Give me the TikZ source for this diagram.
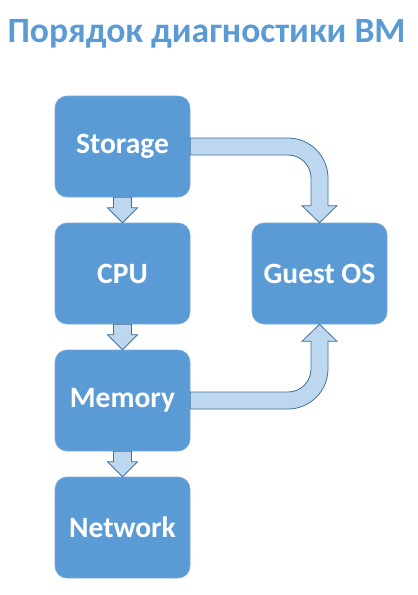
\documentclass[tikz,border=0pt]{standalone}
\usepackage{fontspec}
\setmainfont{Carlito}
\usetikzlibrary{calc}
\definecolor{boxblue}{HTML}{5B9BD5}
\definecolor{arrowfill}{HTML}{BDD7EE}
\definecolor{arrowline}{HTML}{41719C}
\tikzset{
  box/.style={rectangle, rounded corners=12pt, fill=boxblue, draw=boxblue!85!white, line width=0.6pt,
    minimum width=135pt, minimum height=101pt, inner sep=0pt,
    text=white, font=\fontsize{29.5}{33}\selectfont\bfseries},
  blockarrow/.style={fill=arrowfill, draw=arrowline, line width=0.8pt, line join=miter},
  titlestyle/.style={text=boxblue, font=\fontsize{35.6}{40}\selectfont\bfseries, inner sep=0pt}
}
\begin{document}
\begin{tikzpicture}[x=1pt, y=-1pt]
\useasboundingbox (0,0) rectangle (418,595);
\node[titlestyle, anchor=base] (title) at (206.5,42) {Порядок диагностики ВМ};
\node[box] (storage) at (122.5,146.5) {Storage};
\node[box] (cpu) at (122.5,273.5) {CPU};
\node[box] (memory) at (122.5,400.5) {Memory};
\node[box] (network) at (122.5,527.5) {Network};
\node[box] (guest) at (319.5,273.5) {Guest OS};
% small down arrows
\foreach \a/\b in {storage/cpu, cpu/memory, memory/network}{
  \path[blockarrow] ($(\a.south)+(-9,0)$) -- ($(\b.north)+(-9,-15)$) -- ($(\b.north)+(-15,-15)$)
    -- (\b.north) -- ($(\b.north)+(15,-15)$) -- ($(\b.north)+(9,-15)$) -- ($(\a.south)+(9,0)$) -- cycle;
}
% Storage -> Guest OS
\coordinate (s1) at ($(storage.east)+(0,-8.5)$);
\coordinate (s2) at ($(storage.east)+(0,8.5)$);
\coordinate (g1) at ($(guest.north)+(8.5,-17)$);
\coordinate (g2) at ($(guest.north)+(-8.5,-17)$);
\coordinate (C) at (g1 |- s1);
\coordinate (D) at (g2 |- s2);
\path[blockarrow] (s1) -- ($(C)+(-40,0)$) .. controls ($(C)+(-18,0)$) and ($(C)+(0,18)$) .. ($(C)+(0,40)$)
  -- (g1) -- ($(g1)+(9,0)$) -- (guest.north) -- ($(g2)+(-9,0)$) -- (g2)
  -- ($(D)+(0,23)$) .. controls ($(D)+(0,10.3)$) and ($(D)+(-10.3,0)$) .. ($(D)+(-23,0)$) -- (s2) -- cycle;
% Memory -> Guest OS
\coordinate (m1) at ($(memory.east)+(0,8.5)$);
\coordinate (m2) at ($(memory.east)+(0,-8.5)$);
\coordinate (h1) at ($(guest.south)+(8.5,17)$);
\coordinate (h2) at ($(guest.south)+(-8.5,17)$);
\coordinate (E) at (h1 |- m1);
\coordinate (F) at (h2 |- m2);
\path[blockarrow] (m1) -- ($(E)+(-40,0)$) .. controls ($(E)+(-18,0)$) and ($(E)+(0,-18)$) .. ($(E)+(0,-40)$)
  -- (h1) -- ($(h1)+(9,0)$) -- (guest.south) -- ($(h2)+(-9,0)$) -- (h2)
  -- ($(F)+(0,-23)$) .. controls ($(F)+(0,-10.3)$) and ($(F)+(-10.3,0)$) .. ($(F)+(-23,0)$) -- (m2) -- cycle;
\end{tikzpicture}
\end{document}
